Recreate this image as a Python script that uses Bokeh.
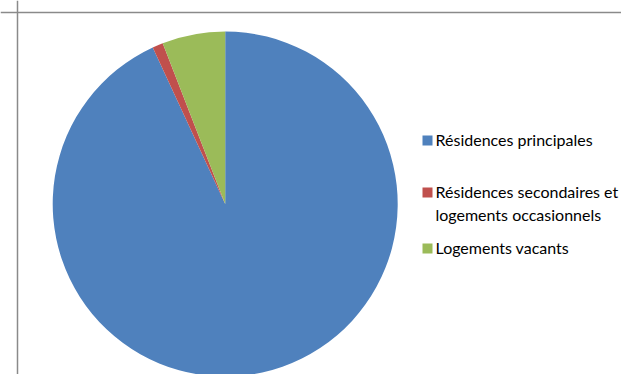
import math
from bokeh.plotting import figure
from bokeh.models import Range1d, Span, ColumnDataSource
from bokeh.core.properties import value
from bokeh.embed import file_html
from bokeh.resources import INLINE

# Data (shares of dwellings, %)
categories = ["Résidences principales",
              "Résidences secondaires et\nlogements occasionnels",
              "Logements vacants"]
shares = [93.1, 1.0, 5.9]
colors = ["#4F81BD", "#C0504D", "#9BBB59"]

W, H = 621, 374
p = figure(width=W, height=H, output_backend="svg", toolbar_location=None,
           x_range=Range1d(0, W), y_range=Range1d(0, H), min_border=0,
           outline_line_color=None, background_fill_color="white",
           border_fill_color="white")
p.axis.visible = False
p.grid.visible = False

# chart area border (left and top visible)
p.add_layout(Span(location=17, dimension="height", line_color="#8a8a8a", line_width=1.5))
p.add_layout(Span(location=H - 12, dimension="width", line_color="#8a8a8a", line_width=1.5))

# pie: Excel-style, start at 12 o'clock, clockwise
total = sum(shares)
starts, ends = [], []
a = math.pi / 2
for s in shares:
    starts.append(a)
    a -= 2 * math.pi * s / total
    ends.append(a)
src = ColumnDataSource(dict(start=starts, end=ends, color=colors))
p.wedge(x=224.7, y=H - 203.5, radius=172.5, radius_units="screen",
        start_angle="start", end_angle="end", direction="clock",
        fill_color="color", line_color=None, source=src)

# legend
leg_sy = [140, 192, 248]
leg_y = [H - s for s in leg_sy]
lsrc = ColumnDataSource(dict(x=[427] * 3, y=leg_y, color=colors,
                             tx=[435] * 3, ty=[yy + 10.5 for yy in leg_y], label=categories))
p.scatter(x="x", y="y", marker="square", size=10, fill_color="color",
          line_color=None, source=lsrc)
p.text(x="tx", y="ty", text="label", source=lsrc, text_font=value("Lato"),
       text_font_size="16px", text_color="#000000", text_baseline="top",
       text_align="left", text_line_height=1.2)

open("out.html", "w").write(file_html(p, INLINE))
